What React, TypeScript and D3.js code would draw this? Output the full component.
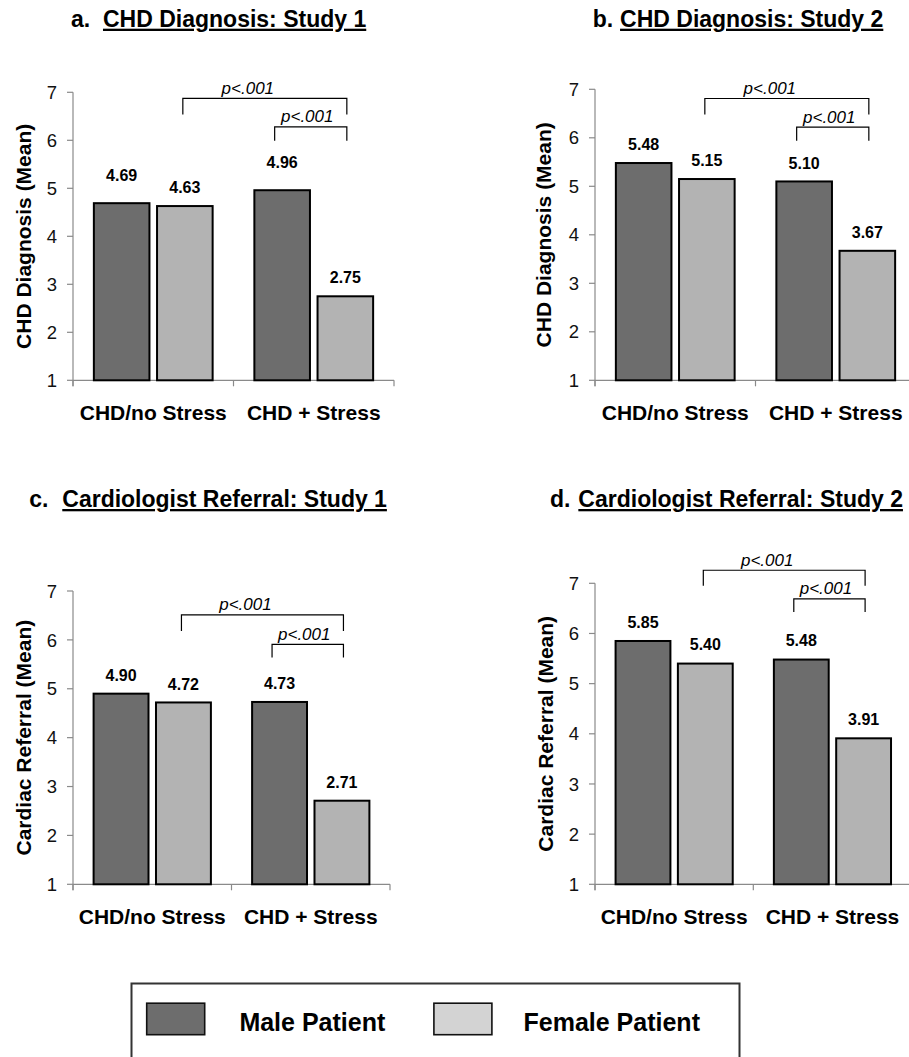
import React from "react";
import * as d3 from "d3";

// ---------- data ----------
const categories = ["CHD/no Stress", "CHD + Stress"];
const seriesNames = ["Male Patient", "Female Patient"];
const yTickValues = [1, 2, 3, 4, 5, 6, 7];
const pText = "p<.001";

const maleDiagStudy1 = [4.69, 4.96];
const femaleDiagStudy1 = [4.63, 2.75];
const maleDiagStudy2 = [5.48, 5.1];
const femaleDiagStudy2 = [5.15, 3.67];
const maleRefStudy1 = [4.9, 4.73];
const femaleRefStudy1 = [4.72, 2.71];
const maleRefStudy2 = [5.85, 5.48];
const femaleRefStudy2 = [5.4, 3.91];

const panelLetters = ["a.", "b.", "c.", "d."];
const panelTitles = [
  "CHD Diagnosis: Study 1",
  "CHD Diagnosis: Study 2",
  "Cardiologist Referral: Study 1",
  "Cardiologist Referral: Study 2",
];
const yAxisTitles = [
  "CHD Diagnosis (Mean)",
  "CHD Diagnosis (Mean)",
  "Cardiac Referral (Mean)",
  "Cardiac Referral (Mean)",
];
const panelValues = [
  [maleDiagStudy1, femaleDiagStudy1],
  [maleDiagStudy2, femaleDiagStudy2],
  [maleRefStudy1, femaleRefStudy1],
  [maleRefStudy2, femaleRefStudy2],
];

// ---------- layout / style ----------
const W = 909;
const H = 1057;
const FONT = "'Liberation Sans', Arial, Helvetica, sans-serif";
const MALE = "#6d6d6d";
const FEMALE = "#b3b3b3";
const FEMALE_LEGEND = "#d3d3d3";
const AXIS = "#8a8a8a";

const layouts = [
  { x0: 73, x1: 394, yTop: 92.3, yBot: 380.3, titleX: 71, titleGap: 12.8, titleY: 26.7, yTitleX: 23, catY: 420, lifts: [28, 19], br: [6.875, 6.54, 6.28, 5.99] },
  { x0: 595, x1: 916, yTop: 89.3, yBot: 380.3, titleX: 592.7, titleGap: 6.9, titleY: 26.7, yTitleX: 543.3, catY: 420, lifts: [18.5, 18.5], br: [6.81, 6.48, 6.22, 5.94] },
  { x0: 73, x1: 390, yTop: 591, yBot: 884.3, titleX: 29.3, titleGap: 13.8, titleY: 507, yTitleX: 23.3, catY: 924, lifts: [18.5, 18.5], br: [6.51, 6.18, 5.91, 5.64] },
  { x0: 595, x1: 911.6, yTop: 583.3, yBot: 884.3, titleX: 550, titleGap: 7.9, titleY: 507, yTitleX: 545, catY: 924, lifts: [19, 19], br: [7.26, 6.95, 6.69, 6.43] },
];

function Panel({ idx }: { idx: number }) {
  const L = layouts[idx];
  const vals = panelValues[idx];
  const y = d3.scaleLinear().domain([1, 7]).range([L.yBot, L.yTop]);
  const xc = d3.scaleBand<string>().domain(categories).range([L.x0, L.x1]).paddingInner(0).paddingOuter(0);
  const bw = xc.bandwidth();
  const xs = d3
    .scaleBand<string>()
    .domain(seriesNames)
    .range([0.13 * bw, 0.87 * bw])
    .paddingInner(0.12);
  const barCenter = (c: number, s: number) => (xc(categories[c]) as number) + (xs(seriesNames[s]) as number) + xs.bandwidth() / 2;

  const outerL = barCenter(0, 1) - 2;
  const outerR = barCenter(1, 1) + 1.5;
  const innerL = barCenter(1, 0) - 7.5;
  const [oTop, oBot, iTop, iBot] = L.br.map((v) => y(v));

  const bracket = (x1: number, x2: number, top: number, bot: number) =>
    `M${x1},${bot}V${top}H${x2}V${bot}`;

  return (
    <g>
      {/* title */}
      <text x={L.titleX} y={L.titleY} fontFamily={FONT} fontWeight="bold" fontSize={23} fill="#000">
        <tspan>{panelLetters[idx]}</tspan>
        <tspan dx={L.titleGap} style={{ textDecoration: "underline" }}>{panelTitles[idx]}</tspan>
      </text>

      {/* y axis title */}
      <text
        transform={`translate(${L.yTitleX + 7.5},${(L.yTop + L.yBot) / 2}) rotate(-90)`}
        textAnchor="middle"
        fontFamily={FONT}
        fontWeight="bold"
        fontSize={21}
        fill="#000"
      >
        {yAxisTitles[idx]}
      </text>

      {/* y axis */}
      <line x1={L.x0} x2={L.x0} y1={L.yTop} y2={L.yBot + 6} stroke={AXIS} strokeWidth={1.2} />
      {yTickValues.map((t) => (
        <g key={t}>
          <line x1={L.x0 - 6} x2={L.x0} y1={y(t)} y2={y(t)} stroke={AXIS} strokeWidth={1.2} />
          <text x={L.x0 - 16} y={y(t)} dy="0.36em" textAnchor="end" fontFamily={FONT} fontSize={18.5} fill="#111">
            {t}
          </text>
        </g>
      ))}

      {/* x axis */}
      <line x1={L.x0} x2={L.x1} y1={L.yBot} y2={L.yBot} stroke={AXIS} strokeWidth={1.2} />
      {[...categories.map((c) => xc(c) as number), L.x1].map((xv, i) => (
        <line key={i} x1={xv} x2={xv} y1={L.yBot} y2={L.yBot + 6} stroke={AXIS} strokeWidth={1.2} />
      ))}
      {categories.map((c) => (
        <text
          key={c}
          x={(xc(c) as number) + bw / 2}
          y={L.catY}
          textAnchor="middle"
          fontFamily={FONT}
          fontWeight="bold"
          fontSize={21}
          fill="#000"
        >
          {c}
        </text>
      ))}

      {/* bars */}
      {categories.map((c, ci) =>
        seriesNames.map((s, si) => {
          const v = vals[si][ci];
          const bx = (xc(c) as number) + (xs(s) as number);
          return (
            <g key={c + s}>
              <rect
                x={bx}
                y={y(v)}
                width={xs.bandwidth()}
                height={L.yBot - y(v)}
                fill={si === 0 ? MALE : FEMALE}
                stroke="#000"
                strokeWidth={2}
              />
              <text
                x={bx + xs.bandwidth() / 2}
                y={y(v) - L.lifts[si] + 5.7}
                textAnchor="middle"
                fontFamily={FONT}
                fontWeight="bold"
                fontSize={16}
                fill="#000"
              >
                {v.toFixed(2)}
              </text>
            </g>
          );
        })
      )}

      {/* significance brackets */}
      <path d={bracket(outerL, outerR, oTop, oBot)} fill="none" stroke="#000" strokeWidth={1.2} />
      <path d={bracket(innerL, outerR, iTop, iBot)} fill="none" stroke="#000" strokeWidth={1.2} />
      <text x={(outerL + outerR) / 2 - 17} y={oTop - 4.5} textAnchor="middle" fontFamily={FONT} fontStyle="italic" fontSize={17} fill="#000">
        {pText}
      </text>
      <text x={(innerL + outerR) / 2 - 3.5} y={iTop - 4.5} textAnchor="middle" fontFamily={FONT} fontStyle="italic" fontSize={17} fill="#000">
        {pText}
      </text>
    </g>
  );
}

function Legend() {
  const swatches = [
    { x: 146.7, fill: MALE, tx: 239.4 },
    { x: 433.9, fill: FEMALE_LEGEND, tx: 523.5 },
  ];
  return (
    <g>
      <rect x={131.5} y={983.5} width={608} height={100} fill="#fff" stroke="#333" strokeWidth={2} />
      {seriesNames.map((name, i) => (
        <g key={name}>
          <rect x={swatches[i].x} y={1003.2} width={58} height={31.5} fill={swatches[i].fill} stroke="#111" strokeWidth={1.6} />
          <text x={swatches[i].tx} y={1031} fontFamily={FONT} fontWeight="bold" fontSize={25} fill="#000">
            {name}
          </text>
        </g>
      ))}
    </g>
  );
}

export default function App() {
  return (
    <svg
      width={W}
      height={H}
      viewBox={`0 0 ${W} ${H}`}
      style={{ position: "absolute", left: 0, top: 0, background: "#fff" }}
    >
      <rect x={0} y={0} width={W} height={H} fill="#fff" />
      {layouts.map((_, i) => (
        <Panel key={i} idx={i} />
      ))}
      <Legend />
    </svg>
  );
}
